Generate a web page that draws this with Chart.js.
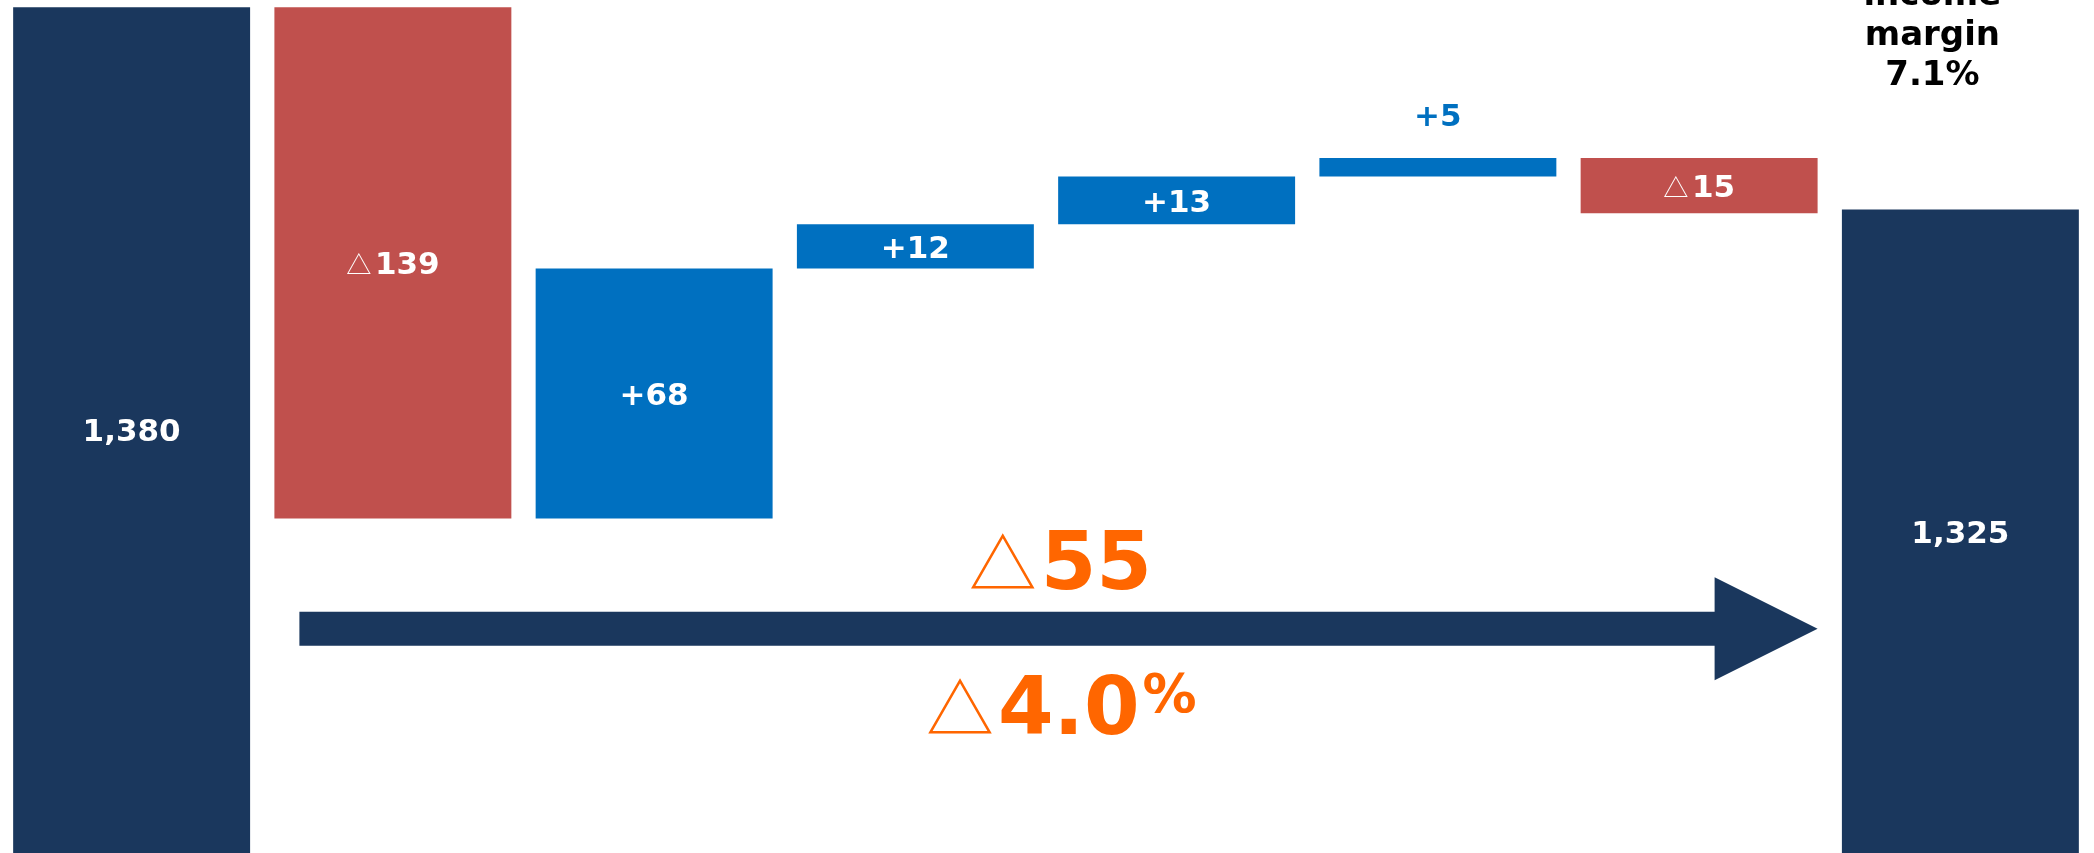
<!DOCTYPE html>
<html><head><meta charset="utf-8">
<script src="https://cdn.jsdelivr.net/npm/chart.js@4.4.1/dist/chart.umd.min.js"></script>
<style>html,body{margin:0;padding:0;background:#fff;overflow:hidden}#wrap{width:2094px;height:853px;position:relative}</style>
</head><body><div id="wrap"><canvas id="c" width="2094" height="853"></canvas></div>
<script>
// ---- data ----
const categories = ['Previous year', 'Factor A', 'Factor B', 'Factor C', 'Factor D', 'Factor E', 'Factor F', 'Current year'];
const startTotal = 1380;
const changes = [-139, 68, 12, 13, 5, -15];
const endTotal = 1325;
const totalChange = -55;
const totalChangePct = '4.0';
const marginLines = ['income', 'margin', '7.1%'];
const yMin = 1150, yMax = 1382;
const arrowLevel = 1211;

// ---- styles ----
const NAVY = '#1A375D', RED = '#C0504D', BLUE = '#0070C0', ORANGE = '#FF6600';
const BOLD = "'DejaVu Sans', Verdana, sans-serif";
const TRI = "'Noto Sans CJK JP', 'DejaVu Sans', sans-serif";

// floating bars built from the arrays
const floating = [[0, startTotal]];
const labelValues = [startTotal];
let run = startTotal;
changes.forEach(c => { floating.push([run, run + c]); labelValues.push(c); run += c; });
floating.push([0, endTotal]);
labelValues.push(endTotal);
const kinds = ['total', ...changes.map(c => c < 0 ? 'neg' : 'pos'), 'total'];
const colors = kinds.map(k => k === 'total' ? NAVY : (k === 'neg' ? RED : BLUE));

function fmt(v, kind) {
  if (kind === 'total') return v.toLocaleString('en-US');
  return (v < 0 ? '△' : '+') + Math.abs(v).toLocaleString('en-US');
}

// draws text whose leading "△" is a thin outline glyph, rest bold
function drawDelta(ctx, str, cx, baseline, size, color, pctSize, gapF) {
  gapF = gapF === undefined ? 0.12 : gapF;
  ctx.save();
  ctx.fillStyle = color;
  ctx.textAlign = 'left';
  ctx.textBaseline = 'alphabetic';
  let rest = str, hasTri = false;
  if (str.startsWith('△')) { hasTri = true; rest = str.slice(1); }
  let pct = '';
  if (pctSize && rest.endsWith('%')) { pct = '%'; rest = rest.slice(0, -1); }
  const capH = 0.729 * size;
  let triSize = size, triM = null, triW = 0;
  if (hasTri) {
    ctx.font = `400 ${size}px ${TRI}`;
    const m = ctx.measureText('△');
    const h = m.actualBoundingBoxAscent + m.actualBoundingBoxDescent;
    triSize = size * (capH * 0.97) / h;
    ctx.font = `400 ${triSize}px ${TRI}`;
    triM = ctx.measureText('△');
    triW = triM.actualBoundingBoxRight + triM.actualBoundingBoxLeft;
  }
  ctx.font = `bold ${size}px ${BOLD}`;
  const restW = ctx.measureText(rest).width;
  let pctW = 0;
  if (pct) { ctx.font = `bold ${pctSize}px ${BOLD}`; pctW = ctx.measureText(pct).width + 3; }
  const gap = hasTri ? size * gapF : 0;
  const total = triW + gap + restW + pctW;
  let x = cx - total / 2;
  if (hasTri) {
    ctx.font = `400 ${triSize}px ${TRI}`;
    ctx.fillText('△', x + triM.actualBoundingBoxLeft, baseline - triM.actualBoundingBoxDescent);
    x += triW + gap;
  }
  ctx.font = `bold ${size}px ${BOLD}`;
  ctx.fillText(rest, x, baseline);
  x += restW;
  if (pct) {
    ctx.font = `bold ${pctSize}px ${BOLD}`;
    ctx.fillText(pct, x + 3, baseline - capH + 0.729 * pctSize - 3);
  }
  ctx.restore();
}

const overlay = {
  id: 'overlay',
  afterDatasetsDraw(chart) {
    const ctx = chart.ctx, area = chart.chartArea;
    const meta = chart.getDatasetMeta(0);
    const ys = chart.scales.y;
    const LBL = 31;
    // bar labels
    meta.data.forEach((bar, i) => {
      const top = Math.max(Math.min(bar.y, bar.base), area.top);
      const bot = Math.min(Math.max(bar.y, bar.base), area.bottom);
      const txt = fmt(labelValues[i], kinds[i]);
      const capH = 0.729 * LBL;
      if (bot - top < 30) {
        drawDelta(ctx, txt, bar.x, top - 32, LBL, colors[i]);
      } else {
        drawDelta(ctx, txt, bar.x, (top + bot) / 2 + capH / 2, LBL, '#FFFFFF');
      }
    });
    // margin note above last bar
    const last = meta.data[meta.data.length - 1];
    ctx.save();
    ctx.fillStyle = '#000';
    ctx.font = `bold 34px ${BOLD}`;
    ctx.textAlign = 'center';
    ctx.textBaseline = 'alphabetic';
    marginLines.forEach((l, k) => ctx.fillText(l, last.x - 28, 5 + 40 * k));
    ctx.restore();
    // arrow
    const b1 = meta.data[1], b6 = meta.data[6];
    const left = b1.x - b1.width / 2 + 25;
    const tip = b6.x + b6.width / 2;
    const yc = ys.getPixelForValue(arrowLevel);
    const headLen = 103, shaftH = 17, headH = 51.5;
    ctx.save();
    ctx.fillStyle = NAVY;
    ctx.beginPath();
    ctx.moveTo(left, yc - shaftH);
    ctx.lineTo(tip - headLen, yc - shaftH);
    ctx.lineTo(tip - headLen, yc - headH);
    ctx.lineTo(tip, yc);
    ctx.lineTo(tip - headLen, yc + headH);
    ctx.lineTo(tip - headLen, yc + shaftH);
    ctx.lineTo(left, yc + shaftH);
    ctx.closePath();
    ctx.fill();
    ctx.restore();
    const mid = (left + tip) / 2;
    drawDelta(ctx, '△' + Math.abs(totalChange), mid + 3, yc - 40, 80, ORANGE, 0, 0.07);
    drawDelta(ctx, '△' + totalChangePct + '%', mid + 4, yc + 105, 80, ORANGE, 54, 0.07);
  }
};

new Chart(document.getElementById('c'), {
  type: 'bar',
  data: {
    labels: categories,
    datasets: [{
      data: floating,
      backgroundColor: colors,
      borderWidth: 0,
      barPercentage: 0.907,
      categoryPercentage: 1.0
    }]
  },
  options: {
    responsive: false,
    animation: false,
    devicePixelRatio: 1,
    layout: { padding: { left: 1, right: 3, top: 0, bottom: 0 } },
    scales: {
      x: { display: false },
      y: { display: false, min: yMin, max: yMax }
    },
    plugins: { legend: { display: false }, tooltip: { enabled: false } }
  },
  plugins: [overlay]
});
</script>
</body></html>
